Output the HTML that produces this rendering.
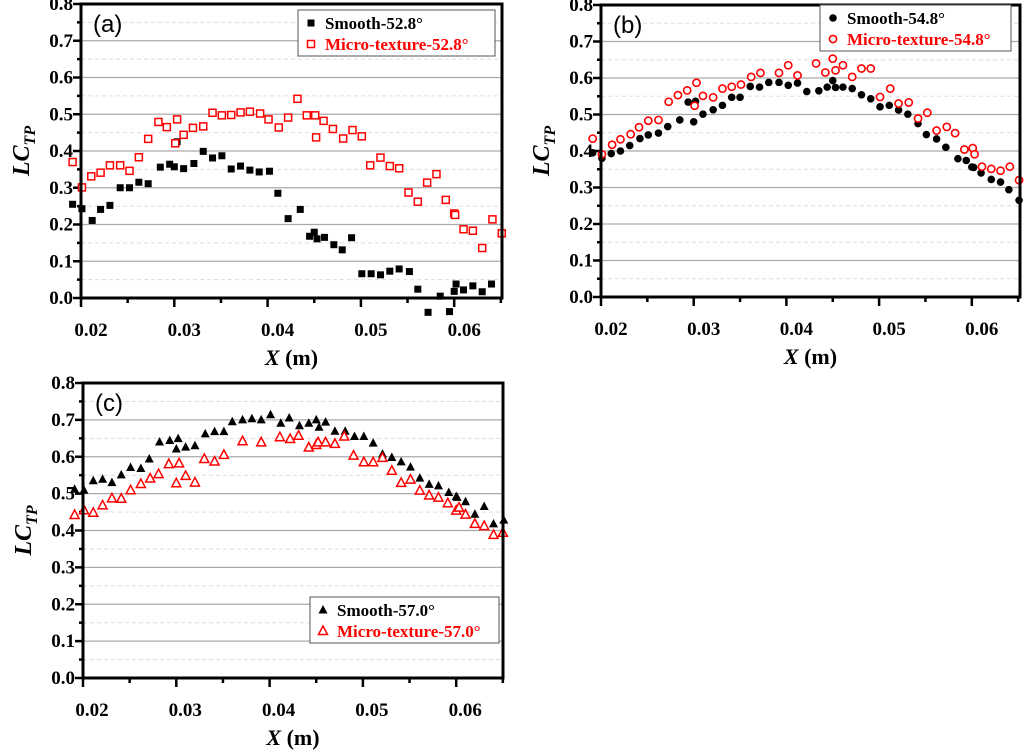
<!DOCTYPE html>
<html><head><meta charset="utf-8"><style>
body{margin:0;background:#fff;width:1024px;height:755px;overflow:hidden}
svg{display:block}
text{font-family:"Liberation Serif",serif;font-weight:bold}
</style></head><body>
<svg id="chart" width="1024" height="755"></svg>
<script>
const aSmoothX=[0.0191,0.0201,0.0212,0.0221,0.0231,0.0242,0.0252,0.0262,0.0272,0.0285,0.0295,0.0300,0.0303,0.0310,0.0321,0.0331,0.0341,0.0351,0.0361,0.0371,0.0381,0.0391,0.0402,0.0411,0.0422,0.0435,0.0445,0.0450,0.0453,0.0461,0.0471,0.0480,0.0490,0.0501,0.0511,0.0521,0.0531,0.0541,0.0552,0.0561,0.0572,0.0585,0.0595,0.0600,0.0602,0.0610,0.0620,0.0630,0.0640];
const aSmoothY=[0.255,0.243,0.211,0.241,0.252,0.300,0.300,0.315,0.311,0.356,0.364,0.357,0.425,0.352,0.366,0.399,0.381,0.387,0.351,0.359,0.348,0.343,0.345,0.285,0.216,0.241,0.168,0.179,0.161,0.165,0.145,0.131,0.164,0.066,0.066,0.063,0.073,0.079,0.072,0.024,-0.039,0.005,-0.037,0.018,0.038,0.022,0.033,0.017,0.038];
const aMicroX=[0.0191,0.0201,0.0211,0.0221,0.0231,0.0242,0.0252,0.0262,0.0272,0.0283,0.0292,0.0301,0.0303,0.0310,0.0320,0.0331,0.0341,0.0351,0.0361,0.0371,0.0381,0.0392,0.0401,0.0412,0.0422,0.0432,0.0442,0.0451,0.0452,0.0460,0.0470,0.0481,0.0491,0.0501,0.0510,0.0521,0.0531,0.0541,0.0551,0.0561,0.0571,0.0581,0.0591,0.0600,0.0601,0.0610,0.0620,0.0630,0.0641,0.0651];
const aMicroY=[0.370,0.301,0.331,0.341,0.361,0.361,0.346,0.383,0.433,0.479,0.465,0.421,0.486,0.444,0.463,0.467,0.504,0.497,0.498,0.505,0.507,0.502,0.486,0.464,0.491,0.542,0.497,0.497,0.437,0.482,0.460,0.434,0.457,0.440,0.361,0.382,0.359,0.353,0.287,0.262,0.314,0.337,0.267,0.230,0.226,0.187,0.183,0.136,0.214,0.176];
const bSmoothX=[0.0191,0.0201,0.0211,0.0221,0.0231,0.0242,0.0251,0.0262,0.0272,0.0285,0.0294,0.0300,0.0302,0.0310,0.0321,0.0331,0.0341,0.0350,0.0361,0.0371,0.0381,0.0392,0.0402,0.0412,0.0422,0.0435,0.0444,0.0450,0.0453,0.0461,0.0471,0.0481,0.0491,0.0501,0.0511,0.0521,0.0531,0.0542,0.0551,0.0562,0.0572,0.0585,0.0594,0.0600,0.0602,0.0610,0.0621,0.0631,0.0640,0.0651];
const bSmoothY=[0.395,0.380,0.393,0.400,0.415,0.434,0.444,0.449,0.467,0.485,0.534,0.480,0.536,0.501,0.513,0.525,0.547,0.547,0.577,0.575,0.588,0.588,0.580,0.586,0.563,0.565,0.575,0.593,0.574,0.575,0.571,0.554,0.543,0.521,0.525,0.512,0.501,0.475,0.445,0.433,0.410,0.379,0.374,0.356,0.355,0.340,0.322,0.315,0.294,0.265];
const bMicroX=[0.0191,0.0201,0.0212,0.0221,0.0232,0.0241,0.0251,0.0262,0.0273,0.0283,0.0293,0.0301,0.0303,0.0310,0.0321,0.0331,0.0341,0.0351,0.0362,0.0372,0.0392,0.0402,0.0412,0.0432,0.0442,0.0450,0.0453,0.0461,0.0471,0.0481,0.0491,0.0501,0.0512,0.0521,0.0532,0.0542,0.0552,0.0562,0.0573,0.0582,0.0592,0.0601,0.0603,0.0611,0.0621,0.0631,0.0641,0.0651];
const bMicroY=[0.434,0.391,0.417,0.432,0.446,0.465,0.483,0.485,0.535,0.553,0.566,0.524,0.587,0.551,0.547,0.571,0.576,0.582,0.603,0.614,0.614,0.635,0.607,0.640,0.615,0.653,0.621,0.635,0.603,0.626,0.626,0.548,0.571,0.530,0.533,0.489,0.505,0.456,0.466,0.449,0.404,0.408,0.391,0.357,0.351,0.346,0.357,0.320];
const cSmoothX=[0.0191,0.0201,0.0211,0.0221,0.0231,0.0241,0.0251,0.0262,0.0271,0.0282,0.0293,0.0300,0.0302,0.0310,0.0320,0.0331,0.0341,0.0351,0.0360,0.0371,0.0381,0.0391,0.0401,0.0412,0.0421,0.0432,0.0442,0.0450,0.0453,0.0460,0.0470,0.0481,0.0491,0.0501,0.0511,0.0521,0.0531,0.0541,0.0551,0.0561,0.0571,0.0581,0.0592,0.0600,0.0601,0.0610,0.0620,0.0630,0.0640,0.0651];
const cSmoothY=[0.512,0.509,0.535,0.539,0.530,0.551,0.571,0.568,0.594,0.640,0.644,0.621,0.649,0.626,0.630,0.662,0.668,0.668,0.695,0.700,0.703,0.700,0.714,0.691,0.705,0.684,0.691,0.700,0.680,0.694,0.669,0.669,0.655,0.655,0.637,0.607,0.598,0.586,0.572,0.542,0.525,0.521,0.503,0.492,0.490,0.478,0.444,0.465,0.418,0.428];
const cMicroX=[0.0191,0.0201,0.0211,0.0221,0.0231,0.0241,0.0251,0.0262,0.0272,0.0281,0.0292,0.0300,0.0303,0.0310,0.0320,0.0330,0.0341,0.0351,0.0371,0.0391,0.0411,0.0422,0.0431,0.0442,0.0450,0.0452,0.0460,0.0470,0.0480,0.0490,0.0501,0.0511,0.0521,0.0531,0.0541,0.0551,0.0561,0.0571,0.0581,0.0591,0.0600,0.0603,0.0610,0.0620,0.0630,0.0640,0.0650];
const cMicroY=[0.442,0.455,0.448,0.468,0.487,0.486,0.509,0.526,0.541,0.553,0.580,0.528,0.582,0.548,0.530,0.594,0.587,0.605,0.642,0.639,0.653,0.648,0.657,0.625,0.632,0.639,0.639,0.635,0.655,0.603,0.585,0.585,0.597,0.562,0.529,0.538,0.508,0.495,0.489,0.474,0.454,0.462,0.443,0.418,0.412,0.388,0.394];
const yTickLabels=["0.0","0.1","0.2","0.3","0.4","0.5","0.6","0.7","0.8"];
const xTickLabels=["0.02","0.03","0.04","0.05","0.06"];

const NS="http://www.w3.org/2000/svg";
const svg=document.getElementById('chart');
function mk(tag,attrs,parent,txt){const e=document.createElementNS(NS,tag);for(const k in attrs)e.setAttribute(k,attrs[k]);if(txt!==undefined)e.textContent=txt;(parent||svg).appendChild(e);return e;}

function panel(p){
  const g=mk('g',{});
  
  
  const L=p.l,R=p.r,T=p.t,B=p.b,ppx=p.ppx;
  const step=ppx*0.01;
  const sx=v=>L+(v-0.02)*ppx;
  const sy=v=>B-v/0.8*(B-T);
  for(let i=1;i<16;i++){
    const y=sy(i*0.05);
    const gl=mk('line',{x1:L,x2:R,y1:y,y2:y,stroke:i%2?'#ddd':'#aaa','stroke-width':i%2?1:1.2,'stroke-dasharray':i%2?'4,3':''},g);
    
    
  }
  for(let i=0;i<=16;i++){
    const y=sy(i*0.05);
    mk('line',{x1:L-(i%2?4:8),x2:L,y1:y,y2:y,stroke:'#000','stroke-width':2.5},g);
  }
  yTickLabels.forEach((t,i)=>{
    const tl=mk('text',{x:L-8,y:sy(i*0.1)+6,'text-anchor':'end','font-size':19},g,t);
    
    
  });
  for(let k=0;k*step/2<=R-L+1;k++){
    const x=L+k*step/2;
    mk('line',{x1:x,x2:x,y1:B,y2:B+(k%2?5:9),stroke:'#000','stroke-width':2.5},g);
  }
  xTickLabels.forEach((t,i)=>{
    const tl=mk('text',{x:L+i*step+p.lo,y:B+38,'text-anchor':'middle','font-size':19},g,t);
    
    
  });
  const draw=(xs,ys,shape,color,name)=>{
    const sg=mk('g',{},g);
    
    
    xs.forEach((v,i)=>{marker(sg,shape,sx(v),sy(ys[i]),color);});
  };
  draw(p.s[0],p.s[1],p.shape,'#000','series-smooth');
  draw(p.m[0],p.m[1],p.shape,'red','series-micro-texture');
  const fr=mk('rect',{x:L,y:T,width:R-L,height:B-T,fill:'none',stroke:'#000','stroke-width':3},g);
  
  
  const pl=mk('text',{x:L+12,y:T+28,'font-size':24,style:'font-family:"Liberation Sans",sans-serif;font-weight:normal'},g,'('+p.id+')');
  
  
  const xt=mk('text',{x:(L+R)/2,y:B+67,'text-anchor':'middle','font-size':22},g);
  
  
  mk('tspan',{'font-style':'italic'},xt,'X');mk('tspan',{},xt,' (m)');
  const cy=(T+B)/2;
  const yt=mk('text',{x:0,y:0,'text-anchor':'middle','font-size':24,'font-style':'italic',transform:`translate(${L-52},${cy}) rotate(-90)`},g);
  
  
  mk('tspan',{},yt,'LC');mk('tspan',{'font-size':16,dy:6},yt,'TP');
  const lg=mk('g',{},g);
  
  
  mk('rect',{x:p.lx,y:p.ly,width:p.lw,height:46,fill:'#fff',stroke:'#555','stroke-width':1},lg);
  marker(lg,p.shape,p.lx+13,p.ly+13,'#000');
  marker(lg,p.shape,p.lx+13,p.ly+34,'red');
  const e1=mk('text',{x:p.lx+27,y:p.ly+19,'font-size':17},lg,'Smooth-'+p.ang+'°');
  
  
  const e2=mk('text',{x:p.lx+27,y:p.ly+40,'font-size':17,fill:'red'},lg,'Micro-texture-'+p.ang+'°');
  
  
}
function marker(g,shape,x,y,color){
  let e;
  const filled=color==='#000';
  if(shape==='sq') e=mk('rect',{x:x-3.5,y:y-3.5,width:7,height:7,fill:filled?'#000':'#fff',stroke:color,'stroke-width':filled?0:1.5},g);
  else if(shape==='ci') e=mk('circle',{cx:x,cy:y,r:filled?3.8:3.6,fill:filled?'#000':'#fff',stroke:color,'stroke-width':filled?0:1.6},g);
  else e=mk('polygon',{points:`${x},${y-5} ${x-4.5},${y+3.5} ${x+4.5},${y+3.5}`,fill:filled?'#000':'#fff',stroke:color,'stroke-width':filled?0:1.5},g);
  
  
}
panel({id:'a',l:81,r:502,t:4,b:298,ppx:9330,lo:10,s:[aSmoothX,aSmoothY],m:[aMicroX,aMicroY],shape:'sq',ang:'52.8',lx:298,ly:10,lw:197});
panel({id:'b',l:601,r:1020,t:5,b:297,ppx:9270,lo:10,s:[bSmoothX,bSmoothY],m:[bMicroX,bMicroY],shape:'ci',ang:'54.8',lx:820,ly:5,lw:191});
panel({id:'c',l:83,r:503,t:383,b:678,ppx:9330,lo:9,s:[cSmoothX,cSmoothY],m:[cMicroX,cMicroY],shape:'tr',ang:'57.0',lx:310,ly:597,lw:189});
</script>
</body></html>
